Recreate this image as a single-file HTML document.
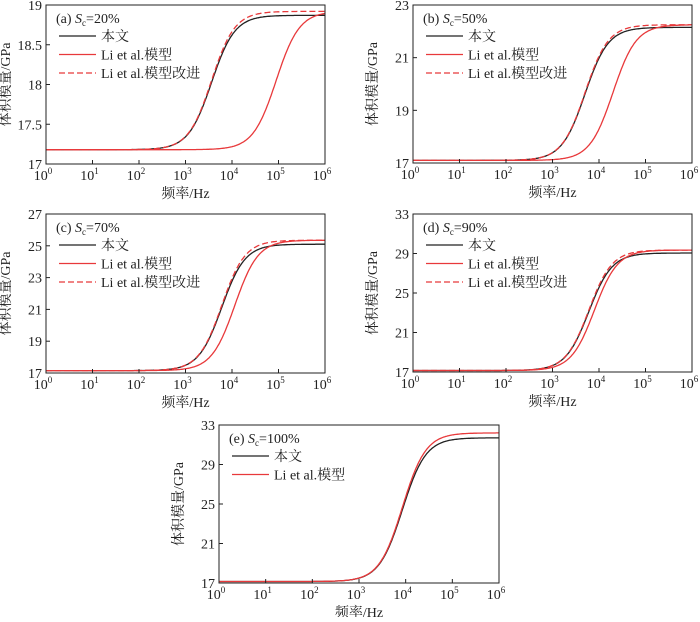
<!DOCTYPE html>
<html><head><meta charset="utf-8"><style>
body{margin:0;background:#fff;width:700px;height:617px;overflow:hidden}
svg text{font-family:"Liberation Serif","Noto Serif CJK SC","Noto Sans CJK SC",serif;fill:#222}
</style></head><body>
<svg id="s" width="700" height="617" xmlns="http://www.w3.org/2000/svg"></svg>
<script>
var P=[
{x0:46,x1:325,y0:5,y1:164,ymin:17,ymax:19,yt:[17,17.5,18,18.5,19],lab:"(a) ",sc:"20%",
 s:[{lo:17.18,hi:18.87,c:3.56,col:"#222"},{lo:17.18,hi:18.92,c:4.95,col:"#e8393b"},{lo:17.18,hi:18.92,c:3.56,col:"#e8393b",d:1}]},
{x0:413,x1:692,y0:5,y1:163,ymin:17,ymax:23,yt:[17,19,21,23],lab:"(b) ",sc:"50%",
 s:[{lo:17.1,hi:22.15,c:3.7,col:"#222"},{lo:17.1,hi:22.25,c:4.3,col:"#e8393b"},{lo:17.1,hi:22.25,c:3.7,col:"#e8393b",d:1}]},
{x0:46,x1:325,y0:214,y1:373,ymin:17,ymax:27,yt:[17,19,21,23,25,27],lab:"(c) ",sc:"70%",
 s:[{lo:17.15,hi:25.1,c:3.78,col:"#222"},{lo:17.15,hi:25.35,c:4.06,col:"#e8393b"},{lo:17.15,hi:25.35,c:3.78,col:"#e8393b",d:1}]},
{x0:413,x1:692,y0:214,y1:372,ymin:17,ymax:33,yt:[17,21,25,29,33],lab:"(d) ",sc:"90%",
 s:[{lo:17.15,hi:29.05,c:3.78,col:"#222"},{lo:17.15,hi:29.35,c:3.9,col:"#e8393b"},{lo:17.15,hi:29.35,c:3.78,col:"#e8393b",d:1}]},
{x0:219,x1:499,y0:425,y1:583,ymin:17,ymax:33,yt:[17,21,25,29,33],lab:"(e) ",sc:"100%",
 s:[{lo:17.15,hi:31.7,c:3.93,col:"#222"},{lo:17.15,hi:32.2,c:3.93,col:"#e8393b"}]}
];
var h="";
P.forEach(function(p){
 var W=p.x1-p.x0,H=p.y1-p.y0;
 function X(l){return p.x0+W*l/6}
 function Y(v){return p.y1-H*(v-p.ymin)/(p.ymax-p.ymin)}
 p.s.forEach(function(s){
  var d="";for(var i=0;i<=300;i++){var l=6*i/300;var g=1/(1+Math.exp(-(l-s.c)/0.25));var v=s.lo+(s.hi-s.lo)*g;d+=(i?"L":"M")+X(l).toFixed(1)+","+Y(v).toFixed(1)}
  h+='<path d="'+d+'" fill="none" stroke="'+s.col+'" stroke-width="1.3"'+(s.d?' stroke-dasharray="6,3"':'')+'/>';
 });
 h+='<rect x="'+p.x0+'" y="'+p.y0+'" width="'+W+'" height="'+H+'" fill="none" stroke="#222" stroke-width="1"/>';
 for(var i=0;i<=6;i++){var x=X(i);h+='<line x1="'+x+'" x2="'+x+'" y1="'+p.y1+'" y2="'+(p.y1-4)+'" stroke="#222"/>';
  h+='<text x="'+(x-3)+'" y="'+(p.y1+16)+'" font-size="14" text-anchor="middle">10<tspan dy="-6" font-size="9">'+i+'</tspan></text>';}
 p.yt.forEach(function(v){var y=Y(v);h+='<line x1="'+p.x0+'" x2="'+(p.x0+4)+'" y1="'+y+'" y2="'+y+'" stroke="#222"/>';
  h+='<text x="'+(p.x0-4)+'" y="'+(y+5)+'" font-size="14" text-anchor="end">'+v+'</text>';});
 h+='<text x="'+(p.x0+W/2)+'" y="'+(p.y1+34)+'" font-size="14" text-anchor="middle">频率/Hz</text>';
 var yl=p.x0-36;h+='<text transform="translate('+yl+','+(p.y0+H/2)+') rotate(-90)" font-size="14" text-anchor="middle">体积模量/GPa</text>';
 var lx=p.x0+10,ly=p.y0+18;
 h+='<text x="'+lx+'" y="'+ly+'" font-size="14">'+p.lab+'<tspan font-style="italic">S</tspan><tspan dy="3" font-size="9">c</tspan><tspan dy="-3">='+p.sc+'</tspan></text>';
 var names=["本文","Li et al.模型","Li et al.模型改进"];
 p.s.forEach(function(s,k){var y=p.y0+31+k*18.5;
  h+='<line x1="'+(lx+3)+'" x2="'+(lx+40)+'" y1="'+y+'" y2="'+y+'" stroke="'+s.col+'" stroke-width="1.3"'+(s.d?' stroke-dasharray="6,3"':'')+'/>';
  h+='<text x="'+(lx+45)+'" y="'+(y+5)+'" font-size="14">'+names[k]+'</text>';});
});
document.getElementById("s").innerHTML=h;
</script>
</body></html>
